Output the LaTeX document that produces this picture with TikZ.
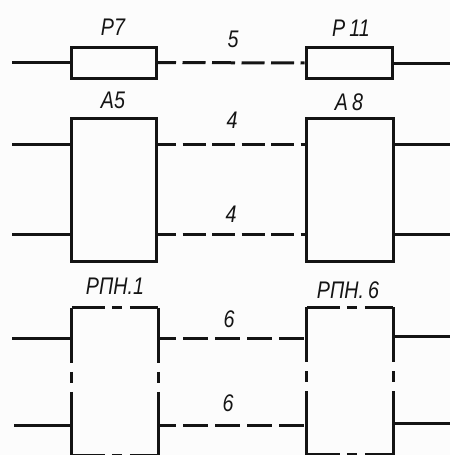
\documentclass[tikz,border=0pt]{standalone}
\usepackage{fontspec}
\setmainfont[FakeStretch=0.82]{Liberation Sans}
\definecolor{paper}{gray}{0.99}
\definecolor{ink}{gray}{0.08}
\tikzset{
  wire/.style={line width=3pt, color=ink},
  dashwire/.style={wire, dash pattern=on 23pt off 6.5pt, dash phase=4.5pt},
  dashwirerpn/.style={wire, dash pattern=on 25pt off 7pt, dash phase=7pt},
  unit/.style={draw=ink, line width=3pt, fill=none, inner sep=0pt, minimum width=#1},
  rpnbox/.style={inner sep=0pt, minimum width=86pt, minimum height=147pt},
  rpnside/.style={wire, line cap=butt, dash pattern=on 55pt off 9pt on 11pt off 9pt on 100pt},
  rpntop/.style={wire, line cap=butt, dash pattern=on 33pt off 7pt on 10pt off 8pt on 100pt},
  lbl/.style={font=\itshape\fontsize{24}{24}\selectfont, text=ink, inner sep=0pt}
}
\begin{document}
\begin{tikzpicture}[x=1pt,y=-1pt]
  \useasboundingbox[fill=paper] (0,0) rectangle (450,455);

  % Plain blocks
  \node[unit=85pt, minimum height=31pt] (p7) at (113.5,62.5) {};
  \node[unit=86pt, minimum height=31pt] (p11) at (349,63) {};
  \node[unit=85pt, minimum height=143pt] (a5) at (113.5,190) {};
  \node[unit=87pt, minimum height=143pt] (a8) at (349.5,190) {};

  % Blocks with broken outline
  \node[rpnbox] (rpn1) at (115,381.5) {};
  \node[rpnbox] (rpn6) at (350,381) {};
  \foreach \block in {rpn1,rpn6}
  {
    \draw[rpnside] (\block.north west) -- (\block.south west);
    \draw[rpnside] (\block.north east) -- (\block.south east);
    \draw[rpntop] (\block.north west) -- (\block.north east);
    \draw[rpntop] (\block.south west) -- (\block.south east);
  }

  % Ports and free ends
  \coordinate (p7in) at (12,62.5);
  \coordinate (p11out) at (450,63);
  \foreach \port/\y/\xl/\xr in {a/144/12/450,b/234/12/450}
  {
    \coordinate (a5\port) at (a5.west |- 0,\y);
    \coordinate (a5\port in) at (\xl,\y);
    \coordinate (a5\port out) at (a5.east |- 0,\y);
    \coordinate (a8\port) at (a8.west |- 0,\y);
    \coordinate (a8\port out) at (a8.east |- 0,\y);
    \coordinate (a8\port end) at (\xr,\y);
  }
  \foreach \port/\y/\yr/\xl in {a/338/336/12,b/425/423/14}
  {
    \coordinate (rpn1\port) at (rpn1.west |- 0,\y);
    \coordinate (rpn1\port in) at (\xl,\y);
    \coordinate (rpn1\port out) at (rpn1.east |- 0,\y);
    \coordinate (rpn6\port) at (rpn6.west |- 0,\y);
    \coordinate (rpn6\port out) at (rpn6.east |- 0,\yr);
    \coordinate (rpn6\port end) at (450,\yr);
  }

  % Connectors
  \draw[wire] (p7in) -- (p7.west);
  \draw[wire] (p11.east) -- (p11out);
  \draw[dashwire] (p7.east) -- (p11.west);
  \foreach \port in {a,b}
  {
    \draw[wire] (a5\port in) -- (a5\port);
    \draw[dashwire] (a5\port out) -- (a8\port);
    \draw[wire] (a8\port out) -- (a8\port end);
    \draw[wire] (rpn1\port in) -- (rpn1\port);
    \draw[dashwirerpn] (rpn1\port out) -- (rpn6\port);
    \draw[wire] (rpn6\port out) -- (rpn6\port end);
  }

  % Labels
  \node[lbl] (lp7) at (113,27) {Р7};
  \node[lbl] (lp11) at (351,28) {Р\,11};
  \node[lbl] (la5) at (113,100) {А5};
  \node[lbl] (la8) at (349,102) {А\,8};
  \node[lbl] (lrpn1) at (115,286) {РПН.1};
  \node[lbl] (lrpn6) at (348,290) {РПН.\,6};
  \node[lbl] (n5) at (233,39) {5};
  \node[lbl] (n4a) at (232,120) {4};
  \node[lbl] (n4b) at (231,214) {4};
  \node[lbl] (n6a) at (229,319) {6};
  \node[lbl] (n6b) at (228,403) {6};
\end{tikzpicture}
\end{document}
